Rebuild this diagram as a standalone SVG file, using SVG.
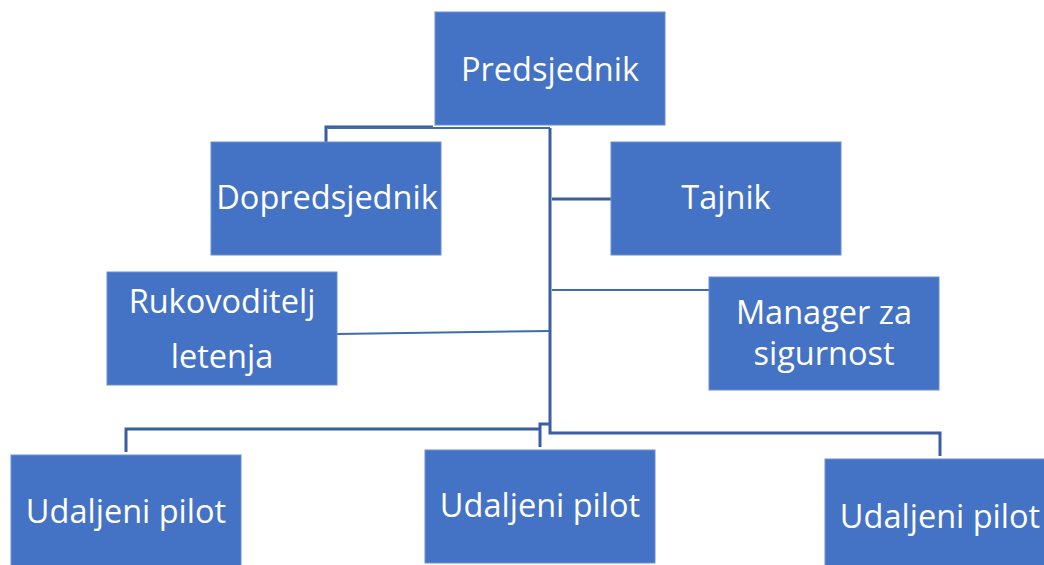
<svg xmlns="http://www.w3.org/2000/svg" width="1044" height="565" viewBox="0 0 1044 565">
<style>
.box{fill:#4472C4;stroke:#6B8FD0;stroke-width:1}
.t{fill:#fff;font-family:"Open Sans","Liberation Sans",sans-serif;font-size:32.5px;text-anchor:middle}
.c{fill:none;stroke:#3A5E9F;stroke-width:3}
.c2{fill:none;stroke:#3F6BAF;stroke-width:2}
</style>
<rect width="1044" height="565" fill="#fff"/>
<g id="connectors">
<path class="c" d="M326,142 V127 H433"/>
<path class="c2" d="M328,128 H550" stroke="#B4C7E7" stroke-width="1.5"/>
<path class="c" d="M550,128 V433 H940 V456"/>
<path class="c" d="M552,199 H611"/>
<path class="c2" d="M552,290 H709"/>
<path class="c2" d="M337,334 L550,331" stroke="#3F7CC0"/>
<path class="c" d="M126,452 V429 H540"/>
<path class="c" d="M540,447 V424 H550"/>
</g>
<g id="predsjednik"><rect class="box" x="435" y="12" width="230" height="113"/><text class="t" x="550" y="81">Predsjednik</text></g>
<g id="dopredsjednik"><rect class="box" x="211" y="142" width="230" height="113"/><text class="t" x="327" y="209">Dopredsjednik</text></g>
<g id="tajnik"><rect class="box" x="611" y="142" width="230" height="113"/><text class="t" x="726" y="209">Tajnik</text></g>
<g id="rukovoditelj"><rect class="box" x="107" y="272" width="230" height="113"/><text class="t" x="222" y="313">Rukovoditelj</text><text class="t" x="222" y="368">letenja</text></g>
<g id="manager"><rect class="box" x="709" y="277" width="230" height="113"/><text class="t" x="824" y="324">Manager za</text><text class="t" x="824" y="365">sigurnost</text></g>
<g id="pilot1"><rect class="box" x="11" y="455" width="230" height="115"/><text class="t" x="126" y="523">Udaljeni pilot</text></g>
<g id="pilot2"><rect class="box" x="425" y="450" width="230" height="113"/><text class="t" x="540" y="517">Udaljeni pilot</text></g>
<g id="pilot3"><rect class="box" x="825" y="459" width="235" height="115"/><text class="t" x="940" y="528">Udaljeni pilot</text></g>
</svg>
